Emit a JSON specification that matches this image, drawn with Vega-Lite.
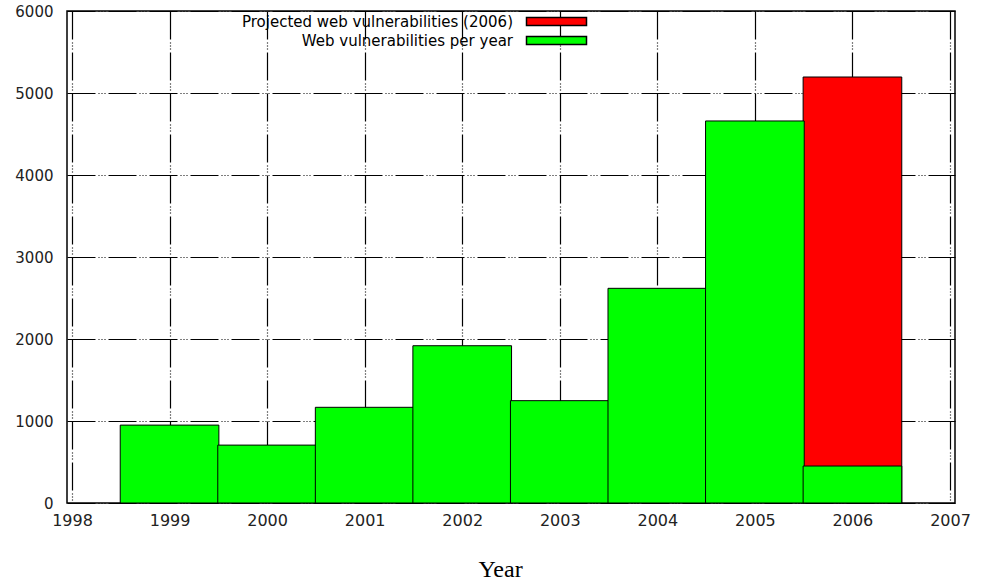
{
  "$schema": "https://vega.github.io/schema/vega-lite/v6.json",
  "width": 888,
  "height": 492,
  "autosize": {"type": "none"},
  "padding": {"left": 67, "top": 11, "right": 27, "bottom": 81},
  "background": "white",
  "config": {
    "view": {"stroke": "black", "strokeWidth": 1.5},
    "font": "DejaVu Sans"
  },
  "data": {
    "values": [
      {"year": 2006, "count": 5195, "series": "Projected web vulnerabilities (2006)"},
      {"year": 1999, "count": 950, "series": "Web vulnerabilities per year"},
      {"year": 2000, "count": 706, "series": "Web vulnerabilities per year"},
      {"year": 2001, "count": 1167, "series": "Web vulnerabilities per year"},
      {"year": 2002, "count": 1918, "series": "Web vulnerabilities per year"},
      {"year": 2003, "count": 1248, "series": "Web vulnerabilities per year"},
      {"year": 2004, "count": 2618, "series": "Web vulnerabilities per year"},
      {"year": 2005, "count": 4659, "series": "Web vulnerabilities per year"},
      {"year": 2006, "count": 451, "series": "Web vulnerabilities per year"}
    ]
  },
  "mark": {"type": "bar", "size": 98.67, "stroke": "black", "strokeWidth": 1, "opacity": 1},
  "encoding": {
    "x": {
      "field": "year",
      "type": "quantitative",
      "scale": {"domain": [1998, 2007], "nice": false, "zero": false},
      "axis": {
        "values": [1998, 1999, 2000, 2001, 2002, 2003, 2004, 2005, 2006, 2007],
        "format": "d",
        "labelFont": "DejaVu Sans",
        "labelFontSize": 16,
        "labelColor": "#222222",
        "labelPadding": 9,
        "labelOverlap": false,
        "labelFlush": false,
        "domain": false,
        "ticks": false,
        "grid": true,
        "gridColor": "black",
        "gridOpacity": 1,
        "gridWidth": 1.2,
        "gridDash": [28, 3, 1, 2, 1, 2, 1, 3],
        "title": "Year",
        "titleFont": "Liberation Serif",
        "titleFontSize": 24,
        "titleFontWeight": "normal",
        "titleColor": "black",
        "titleX": 433,
        "titleY": 73,
        "titleBaseline": "alphabetic",
        "titleAlign": "center"
      }
    },
    "y": {
      "field": "count",
      "type": "quantitative",
      "stack": null,
      "scale": {"domain": [0, 6000], "nice": false},
      "axis": {
        "values": [0, 1000, 2000, 3000, 4000, 5000, 6000],
        "format": "d",
        "labelFont": "DejaVu Sans",
        "labelFontSize": 15,
        "labelColor": "#222222",
        "labelPadding": 14,
        "labelOverlap": false,
        "labelFlush": false,
        "domain": false,
        "ticks": false,
        "grid": true,
        "gridColor": "black",
        "gridOpacity": 1,
        "gridWidth": 1.2,
        "gridDash": [28, 3, 1, 2, 1, 2, 1, 3],
        "title": null
      }
    },
    "color": {
      "field": "series",
      "type": "nominal",
      "scale": {
        "domain": ["Projected web vulnerabilities (2006)", "Web vulnerabilities per year"],
        "range": ["#ff0000", "#00ff00"]
      },
      "legend": {
        "title": null,
        "orient": "none",
        "legendX": 482,
        "legendY": 3,
        "direction": "vertical",
        "padding": 0,
        "symbolType": "M-7.5,-1H7.5V1H-7.5Z",
        "symbolSize": 64,
        "symbolStrokeColor": "black",
        "symbolStrokeWidth": 1.5,
        "symbolOpacity": 1,
        "labelFont": "DejaVu Sans",
        "labelFontSize": 15,
        "labelColor": "black",
        "labelAlign": "right",
        "labelOffset": -51,
        "labelLimit": 400,
        "rowPadding": 3
      }
    }
  }
}
